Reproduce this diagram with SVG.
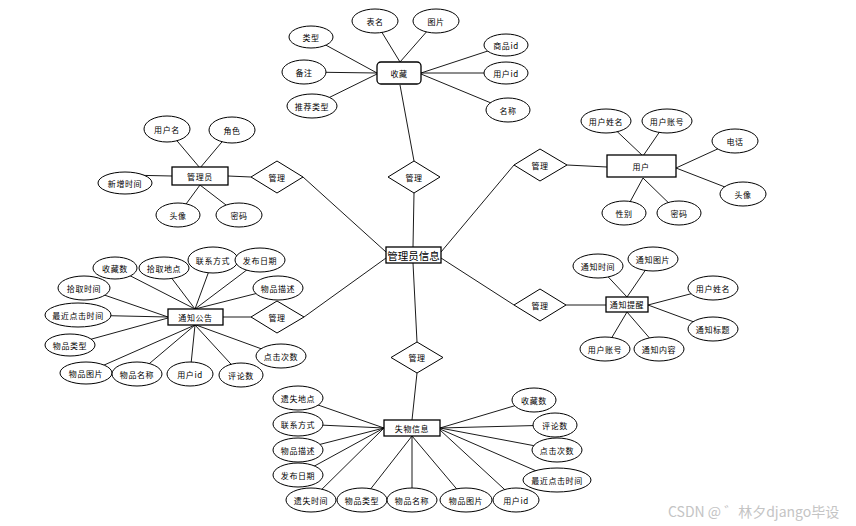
<svg xmlns="http://www.w3.org/2000/svg" width="856" height="526" viewBox="0 0 856 526">
<style>
.e{fill:#fff;stroke:#000;stroke-width:1}
.b{fill:#fff;stroke:#000;stroke-width:1.3}
.d{fill:#fff;stroke:#000;stroke-width:1}
.c line{stroke:#000;stroke-width:0.9}
text{font-family:"Noto Sans CJK SC","Liberation Sans",sans-serif;font-size:8px;fill:#000;text-anchor:middle;dominant-baseline:central;letter-spacing:0.6px}
.big{font-size:10.5px;letter-spacing:0}
.wm{font-size:14px;fill:#c4c4c4;text-anchor:start;letter-spacing:0}
</style>
<rect width="856" height="526" fill="#fff"/>
<g id="connectors" class="c">
<!-- central to diamonds -->
<line x1="413" y1="247" x2="414" y2="193"/>
<line x1="414" y1="161" x2="400" y2="85"/>
<line x1="303" y1="177" x2="386" y2="252"/>
<line x1="228" y1="176" x2="251" y2="177"/>
<line x1="514" y1="165" x2="441" y2="252"/>
<line x1="567" y1="165" x2="607" y2="167"/>
<line x1="304" y1="317" x2="386" y2="258"/>
<line x1="251" y1="317" x2="223" y2="317"/>
<line x1="514" y1="305" x2="441" y2="258"/>
<line x1="566" y1="305" x2="606" y2="305"/>
<line x1="413" y1="263" x2="417" y2="342"/>
<line x1="417" y1="373" x2="412" y2="420"/>
<!-- 收藏 -->
<line x1="311" y1="37" x2="377" y2="73"/>
<line x1="375" y1="21" x2="400" y2="62"/>
<line x1="436" y1="21" x2="400" y2="62"/>
<line x1="506" y1="45" x2="421" y2="73"/>
<line x1="506" y1="73" x2="421" y2="73"/>
<line x1="508" y1="110" x2="421" y2="74"/>
<line x1="304" y1="72" x2="377" y2="73"/>
<line x1="312" y1="106" x2="377" y2="74"/>
<!-- 管理员 -->
<line x1="167" y1="129" x2="200" y2="168"/>
<line x1="232" y1="130" x2="200" y2="168"/>
<line x1="125" y1="175" x2="172" y2="176"/>
<line x1="178" y1="215" x2="200" y2="185"/>
<line x1="239" y1="215" x2="200" y2="185"/>
<!-- 用户 -->
<line x1="606" y1="121" x2="643" y2="156"/>
<line x1="667" y1="121" x2="643" y2="156"/>
<line x1="735" y1="141" x2="676" y2="168"/>
<line x1="743" y1="194" x2="676" y2="168"/>
<line x1="624" y1="213" x2="643" y2="178"/>
<line x1="679" y1="213" x2="643" y2="178"/>
<!-- 通知公告 -->
<line x1="115" y1="268" x2="195" y2="309"/>
<line x1="164" y1="268" x2="195" y2="309"/>
<line x1="213" y1="260" x2="195" y2="309"/>
<line x1="260" y1="260" x2="195" y2="309"/>
<line x1="278" y1="288" x2="195" y2="309"/>
<line x1="84" y1="288" x2="168" y2="317"/>
<line x1="78" y1="315" x2="168" y2="317"/>
<line x1="70" y1="345" x2="168" y2="318"/>
<line x1="86" y1="373" x2="195" y2="325"/>
<line x1="137" y1="374" x2="195" y2="325"/>
<line x1="190" y1="374" x2="195" y2="325"/>
<line x1="241" y1="375" x2="195" y2="325"/>
<line x1="281" y1="356" x2="196" y2="325"/>
<!-- 通知提醒 -->
<line x1="598" y1="266" x2="627" y2="297"/>
<line x1="653" y1="259" x2="627" y2="297"/>
<line x1="713" y1="288" x2="648" y2="305"/>
<line x1="713" y1="329" x2="648" y2="305"/>
<line x1="605" y1="349" x2="627" y2="312"/>
<line x1="659" y1="349" x2="627" y2="312"/>
<!-- 失物信息 -->
<line x1="298" y1="398" x2="384" y2="428"/>
<line x1="298" y1="424" x2="384" y2="428"/>
<line x1="298" y1="450" x2="384" y2="428"/>
<line x1="298" y1="475" x2="384" y2="428"/>
<line x1="311" y1="500" x2="384" y2="428"/>
<line x1="362" y1="500" x2="412" y2="436"/>
<line x1="412" y1="500" x2="412" y2="436"/>
<line x1="466" y1="500" x2="412" y2="436"/>
<line x1="516" y1="500" x2="440" y2="430"/>
<line x1="534" y1="400" x2="440" y2="428"/>
<line x1="555" y1="425" x2="440" y2="428"/>
<line x1="557" y1="450" x2="440" y2="428"/>
<line x1="557" y1="480" x2="440" y2="429"/>
</g>

<g id="center"><rect class="b" x="386" y="247" width="55" height="16"/><text class="big" x="413.5" y="255">管理员信息</text></g>

<g id="rel-top"><polygon class="d" points="414,161 440,177 414,193 388,177"/><text x="414" y="177">管理</text></g>
<g id="rel-admin"><polygon class="d" points="277,161 303,177 277,193 251,177"/><text x="277" y="177">管理</text></g>
<g id="rel-user"><polygon class="d" points="540,149 567,165 540,181 514,165"/><text x="540" y="165">管理</text></g>
<g id="rel-notice"><polygon class="d" points="277,301 304,317 277,333 251,317"/><text x="277" y="317">管理</text></g>
<g id="rel-remind"><polygon class="d" points="540,289 566,305 540,321 514,305"/><text x="540" y="305">管理</text></g>
<g id="rel-lost"><polygon class="d" points="417,342 443,357.5 417,373 391,357.5"/><text x="417" y="357.5">管理</text></g>

<g id="shoucang"><rect class="b" x="377" y="62" width="44" height="22" rx="4"/><text x="399" y="73">收藏</text></g>
<g id="sc-a1"><ellipse class="e" cx="311" cy="37" rx="22" ry="11"/><text x="311" y="37">类型</text></g>
<g id="sc-a2"><ellipse class="e" cx="375" cy="21" rx="23" ry="12"/><text x="375" y="21">表名</text></g>
<g id="sc-a3"><ellipse class="e" cx="436" cy="21" rx="23" ry="12"/><text x="436" y="21">图片</text></g>
<g id="sc-a4"><ellipse class="e" cx="506" cy="45" rx="22" ry="11"/><text x="506" y="45">商品id</text></g>
<g id="sc-a5"><ellipse class="e" cx="506" cy="73" rx="22" ry="11"/><text x="506" y="73">用户id</text></g>
<g id="sc-a6"><ellipse class="e" cx="508" cy="110" rx="22" ry="12"/><text x="508" y="110">名称</text></g>
<g id="sc-a7"><ellipse class="e" cx="304" cy="72" rx="22" ry="12"/><text x="304" y="72">备注</text></g>
<g id="sc-a8"><ellipse class="e" cx="312" cy="106" rx="25" ry="12"/><text x="312" y="106">推荐类型</text></g>

<g id="admin"><rect class="b" x="172" y="167" width="56" height="18"/><text x="200" y="176">管理员</text></g>
<g id="ad-a1"><ellipse class="e" cx="167" cy="129" rx="23" ry="13"/><text x="167" y="129">用户名</text></g>
<g id="ad-a2"><ellipse class="e" cx="232" cy="130" rx="23" ry="13"/><text x="232" y="130">角色</text></g>
<g id="ad-a3"><ellipse class="e" cx="125" cy="183" rx="27" ry="11"/><text x="125" y="183">新增时间</text></g>
<g id="ad-a4"><ellipse class="e" cx="178" cy="215" rx="22" ry="12"/><text x="178" y="215">头像</text></g>
<g id="ad-a5"><ellipse class="e" cx="239" cy="215" rx="23" ry="12"/><text x="239" y="215">密码</text></g>

<g id="user"><rect class="b" x="607" y="155" width="69" height="22"/><text x="641" y="166">用户</text></g>
<g id="us-a1"><ellipse class="e" cx="606" cy="121" rx="25" ry="12"/><text x="606" y="121">用户姓名</text></g>
<g id="us-a2"><ellipse class="e" cx="667" cy="121" rx="25" ry="12"/><text x="667" y="121">用户账号</text></g>
<g id="us-a3"><ellipse class="e" cx="735" cy="141" rx="23" ry="12"/><text x="735" y="141">电话</text></g>
<g id="us-a4"><ellipse class="e" cx="743" cy="194" rx="23" ry="12"/><text x="743" y="194">头像</text></g>
<g id="us-a5"><ellipse class="e" cx="624" cy="213" rx="22" ry="12"/><text x="624" y="213">性别</text></g>
<g id="us-a6"><ellipse class="e" cx="679" cy="213" rx="22" ry="12"/><text x="679" y="213">密码</text></g>

<g id="notice"><rect class="b" x="168" y="309" width="55" height="16"/><text x="195.5" y="317">通知公告</text></g>
<g id="no-a1"><ellipse class="e" cx="115" cy="268" rx="22" ry="11"/><text x="115" y="268">收藏数</text></g>
<g id="no-a2"><ellipse class="e" cx="164" cy="268" rx="25" ry="11"/><text x="164" y="268">拾取地点</text></g>
<g id="no-a3"><ellipse class="e" cx="213" cy="260" rx="25" ry="13"/><text x="213" y="260">联系方式</text></g>
<g id="no-a4"><ellipse class="e" cx="260" cy="260" rx="25" ry="12"/><text x="260" y="260">发布日期</text></g>
<g id="no-a5"><ellipse class="e" cx="84" cy="288" rx="26" ry="12"/><text x="84" y="288">拾取时间</text></g>
<g id="no-a6"><ellipse class="e" cx="278" cy="288" rx="25" ry="12"/><text x="278" y="288">物品描述</text></g>
<g id="no-a7"><ellipse class="e" cx="78" cy="315" rx="33" ry="12"/><text x="78" y="315">最近点击时间</text></g>
<g id="no-a8"><ellipse class="e" cx="70" cy="345" rx="25" ry="11"/><text x="70" y="345">物品类型</text></g>
<g id="no-a9"><ellipse class="e" cx="86" cy="373" rx="26" ry="11"/><text x="86" y="373">物品图片</text></g>
<g id="no-a10"><ellipse class="e" cx="137" cy="374" rx="25" ry="12"/><text x="137" y="374">物品名称</text></g>
<g id="no-a11"><ellipse class="e" cx="190" cy="374" rx="23" ry="12"/><text x="190" y="374">用户id</text></g>
<g id="no-a12"><ellipse class="e" cx="241" cy="375" rx="22" ry="12"/><text x="241" y="375">评论数</text></g>
<g id="no-a13"><ellipse class="e" cx="281" cy="356" rx="25" ry="12"/><text x="281" y="356">点击次数</text></g>

<g id="remind"><rect class="b" x="606" y="297" width="42" height="15"/><text x="627" y="304.5">通知提醒</text></g>
<g id="re-a1"><ellipse class="e" cx="598" cy="266" rx="25" ry="12"/><text x="598" y="266">通知时间</text></g>
<g id="re-a2"><ellipse class="e" cx="653" cy="259" rx="25" ry="12"/><text x="653" y="259">通知图片</text></g>
<g id="re-a3"><ellipse class="e" cx="713" cy="288" rx="25" ry="12"/><text x="713" y="288">用户姓名</text></g>
<g id="re-a4"><ellipse class="e" cx="713" cy="329" rx="25" ry="12"/><text x="713" y="329">通知标题</text></g>
<g id="re-a5"><ellipse class="e" cx="605" cy="349" rx="25" ry="12"/><text x="605" y="349">用户账号</text></g>
<g id="re-a6"><ellipse class="e" cx="659" cy="349" rx="25" ry="12"/><text x="659" y="349">通知内容</text></g>

<g id="lost"><rect class="b" x="384" y="420" width="56" height="16"/><text x="412" y="428">失物信息</text></g>
<g id="lo-a1"><ellipse class="e" cx="298" cy="398" rx="25" ry="12"/><text x="298" y="398">遗失地点</text></g>
<g id="lo-a2"><ellipse class="e" cx="298" cy="424" rx="25" ry="12"/><text x="298" y="424">联系方式</text></g>
<g id="lo-a3"><ellipse class="e" cx="298" cy="450" rx="25" ry="12"/><text x="298" y="450">物品描述</text></g>
<g id="lo-a4"><ellipse class="e" cx="298" cy="475" rx="25" ry="12"/><text x="298" y="475">发布日期</text></g>
<g id="lo-a5"><ellipse class="e" cx="311" cy="500" rx="25" ry="12"/><text x="311" y="500">遗失时间</text></g>
<g id="lo-a6"><ellipse class="e" cx="362" cy="500" rx="25" ry="12"/><text x="362" y="500">物品类型</text></g>
<g id="lo-a7"><ellipse class="e" cx="412" cy="500" rx="25" ry="12"/><text x="412" y="500">物品名称</text></g>
<g id="lo-a8"><ellipse class="e" cx="466" cy="500" rx="26" ry="12"/><text x="466" y="500">物品图片</text></g>
<g id="lo-a9"><ellipse class="e" cx="516" cy="500" rx="23" ry="12"/><text x="516" y="500">用户id</text></g>
<g id="lo-a10"><ellipse class="e" cx="534" cy="400" rx="22" ry="12"/><text x="534" y="400">收藏数</text></g>
<g id="lo-a11"><ellipse class="e" cx="555" cy="425" rx="22" ry="12"/><text x="555" y="425">评论数</text></g>
<g id="lo-a12"><ellipse class="e" cx="557" cy="450" rx="25" ry="12"/><text x="557" y="450">点击次数</text></g>
<g id="lo-a13"><ellipse class="e" cx="557" cy="480" rx="34" ry="12"/><text x="557" y="480">最近点击时间</text></g>

<text class="wm" x="668" y="511">CSDN @ ゛林夕django毕设</text>
</svg>
